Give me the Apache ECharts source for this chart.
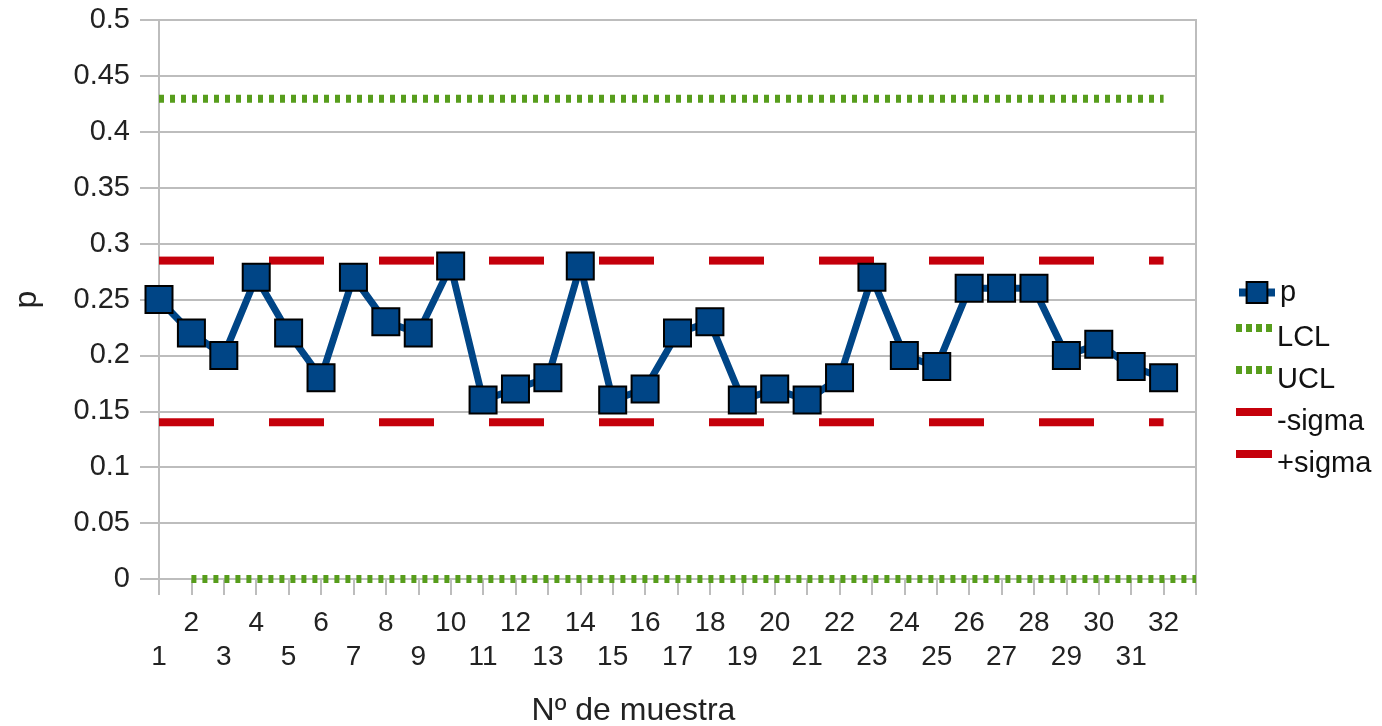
<!DOCTYPE html>
<html>
<head>
<meta charset="utf-8">
<script src="https://cdn.jsdelivr.net/npm/echarts@6/dist/echarts.min.js"></script>
<style>
  html, body { margin: 0; padding: 0; background: #fff; }
  #chart { width: 1382px; height: 726px; }
</style>
</head>
<body>
<div id="chart"></div>
<script>
// muestras 1..32
const categories = ['1', '2', '3', '4', '5', '6', '7', '8', '9', '10', '11', '12', '13', '14', '15', '16',
  '17', '18', '19', '20', '21', '22', '23', '24', '25', '26', '27', '28', '29', '30', '31', '32'];
const pValues = [0.25, 0.22, 0.20, 0.27, 0.22, 0.18, 0.27, 0.23, 0.22, 0.28, 0.16, 0.17, 0.18, 0.28, 0.16, 0.17,
  0.22, 0.23, 0.16, 0.17, 0.16, 0.18, 0.27, 0.20, 0.19, 0.26, 0.26, 0.26, 0.20, 0.21, 0.19, 0.18];
// limites de control
const limitNames = ['LCL', 'UCL', '-sigma', '+sigma'];
const limitValues = [0, 0.4295, 0.1402, 0.2848];
const yTicks = [0, 0.05, 0.1, 0.15, 0.2, 0.25, 0.3, 0.35, 0.4, 0.45, 0.5];

const FONT = "'Liberation Sans', Arial, sans-serif";
const GRAY = '#bdbdbd';
const BLUE = '#004586';
const GREEN = '#579d1c';
const RED = '#c5000b';

// una posicion extra al final (borde derecho)
const axisCats = categories.concat(['']);
const last = categories.length - 1;

const dotIcon = 'path://M0,0h6v8h-6z M10,0h6v8h-6z M20,0h6v8h-6z M30,0h6v8h-6z';

function limitSeries(i, from, to, color, dash) {
  return {
    name: limitNames[i],
    type: 'line',
    color: color,
    data: [[from, limitValues[i]], [to, limitValues[i]]],
    symbol: 'none',
    clip: false,
    lineStyle: { color: color, width: 8, type: dash, cap: 'butt' },
    z: 3
  };
}

const chart = echarts.init(document.getElementById('chart'));
chart.setOption({
  animation: false,
  textStyle: { fontFamily: FONT },
  grid: {
    left: 159, right: 186, top: 20, bottom: 147,
    outerBoundsMode: 'none',
    containLabel: false,
    show: true, borderColor: GRAY, borderWidth: 2
  },
  legend: [
    {
      data: ['p'],
      orient: 'vertical',
      left: 1235, top: 278, padding: 0,
      itemWidth: 36, itemHeight: 26,
      lineStyle: { width: 8, color: BLUE },
      itemStyle: { color: BLUE, borderColor: '#000', borderWidth: 2 },
      textStyle: { fontSize: 29, color: '#111', fontFamily: FONT }
    },
    {
      data: [
        { name: 'LCL', icon: dotIcon },
        { name: 'UCL', icon: dotIcon },
        { name: '-sigma', icon: 'rect' },
        { name: '+sigma', icon: 'rect' }
      ],
      orient: 'vertical',
      left: 1236, top: 304, padding: 0,
      itemWidth: 36, itemHeight: 8, itemGap: -6,
      itemStyle: { borderWidth: 0 },
      formatter: '{a|{name}}',
      textStyle: {
        fontSize: 29, color: '#111', fontFamily: FONT,
        rich: { a: { fontSize: 29, lineHeight: 29, color: '#111', fontFamily: FONT, padding: [19, 0, 0, 0] } }
      }
    }
  ],
  xAxis: {
    type: 'category',
    data: axisCats,
    boundaryGap: false,
    name: 'Nº de muestra',
    nameLocation: 'middle',
    nameGap: 116,
    nameTextStyle: { fontSize: 32, color: '#222', fontFamily: FONT, padding: [0, 88, 0, 0] },
    axisLine: { lineStyle: { color: GRAY, width: 2 } },
    axisTick: { interval: 0, length: 16, lineStyle: { color: GRAY, width: 2 } },
    axisLabel: {
      interval: 0,
      margin: 27,
      fontSize: 28,
      lineHeight: 34,
      color: '#222',
      fontFamily: FONT,
      formatter: function (v) {
        if (v === '') return '';
        return (+v % 2 === 1) ? '\n' + v : v;
      }
    },
    splitLine: { show: false }
  },
  yAxis: {
    type: 'value',
    min: yTicks[0],
    max: yTicks[yTicks.length - 1],
    interval: 0.05,
    name: 'p',
    nameLocation: 'middle',
    nameGap: 116,
    nameTextStyle: { fontSize: 32, color: '#222', fontFamily: FONT },
    axisLine: { show: true, lineStyle: { color: GRAY, width: 2 } },
    axisTick: { show: true, length: 19, lineStyle: { color: GRAY, width: 2 } },
    axisLabel: {
      margin: 29,
      fontSize: 29,
      color: '#222',
      fontFamily: FONT,
      formatter: function (v) { return String(+v.toFixed(2)); }
    },
    splitLine: { lineStyle: { color: GRAY, width: 2 } }
  },
  series: [
    {
      name: 'p',
      type: 'line',
      color: BLUE,
      data: pValues,
      symbol: 'rect',
      symbolSize: 27,
      lineStyle: { color: BLUE, width: 7 },
      itemStyle: { color: BLUE, borderColor: '#000', borderWidth: 2 },
      z: 5
    },
    limitSeries(0, 1, last + 1, GREEN, [5, 6]),
    limitSeries(1, 0, last, GREEN, [5, 6]),
    limitSeries(2, 0, last, RED, [55, 55]),
    limitSeries(3, 0, last, RED, [55, 55])
  ]
});
</script>
</body>
</html>
